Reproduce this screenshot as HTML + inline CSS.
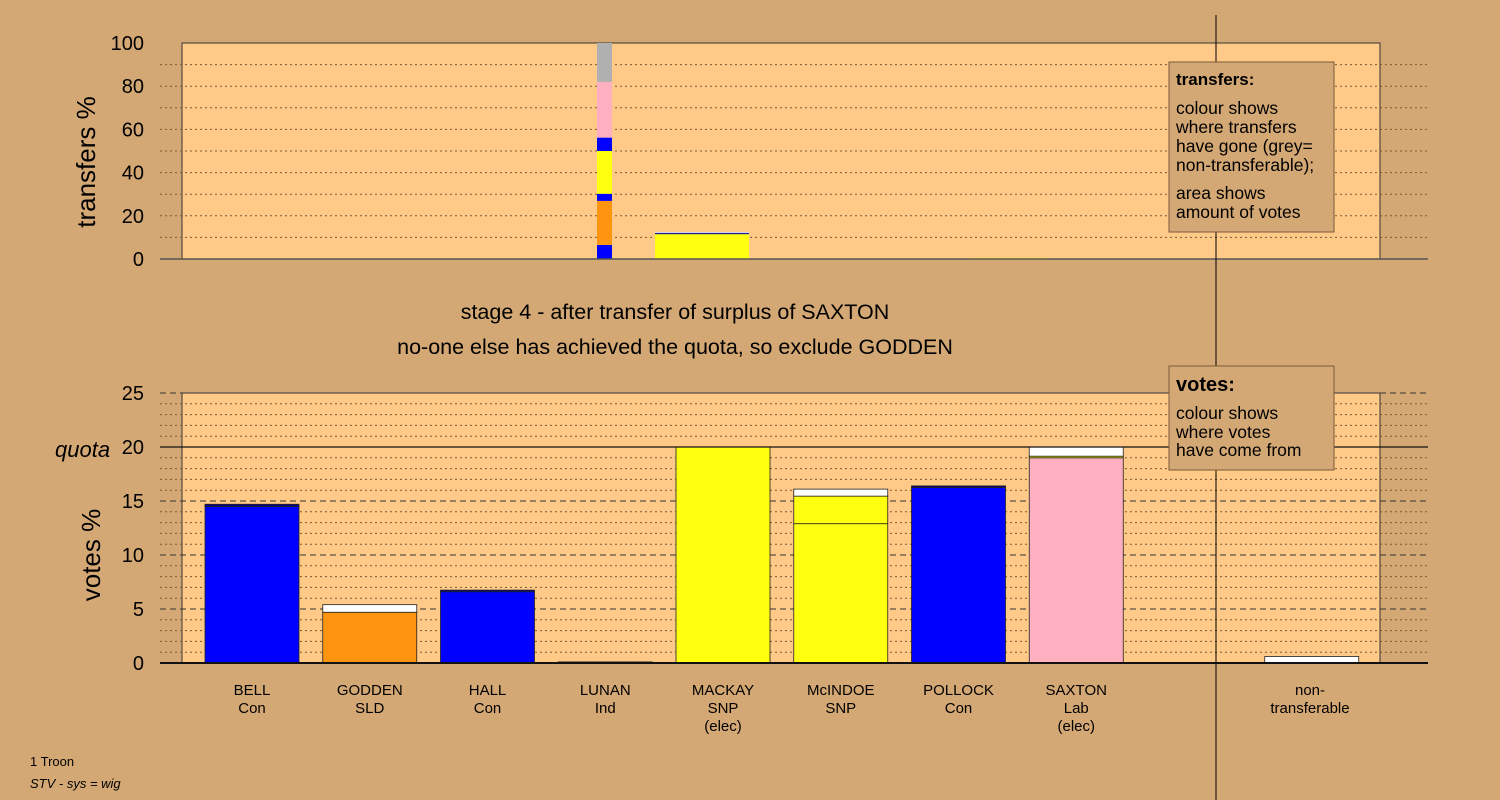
<!DOCTYPE html>
<html><head><meta charset="utf-8"><style>
html,body{margin:0;padding:0;background:#D4A874;}
svg{display:block;font-family:"Liberation Sans",sans-serif;}
</style></head><body>
<svg id="c" width="1500" height="800" viewBox="0 0 1500 800" xmlns="http://www.w3.org/2000/svg">
<rect x="0" y="0" width="1500" height="800" fill="#D4A874"/>
<g id="topPanel"></g>
<g id="botPanel"></g>
<line x1="1216" y1="15" x2="1216" y2="800" stroke="#000" stroke-width="1"/>
<g>
<rect x="1169" y="62" width="165" height="170" fill="#D4A874" stroke="#7a5a3a"/>
<text x="1176" y="85" font-size="17" font-weight="bold">transfers:</text>
<text font-size="17.5"><tspan x="1176" y="114">colour shows</tspan><tspan x="1176" y="133">where transfers</tspan><tspan x="1176" y="152">have gone (grey=</tspan><tspan x="1176" y="171">non-transferable);</tspan><tspan x="1176" y="199">area shows</tspan><tspan x="1176" y="218">amount of votes</tspan></text>
</g>
<g>
<rect x="1169" y="366" width="165" height="104" fill="#D4A874" stroke="#7a5a3a"/>
<text x="1176" y="391" font-size="20" font-weight="bold">votes:</text>
<text font-size="17.5"><tspan x="1176" y="419">colour shows</tspan><tspan x="1176" y="438">where votes</tspan><tspan x="1176" y="456">have come from</tspan></text>
</g>
<text x="675" y="319" font-size="21.5" text-anchor="middle">stage 4 - after transfer of surplus of SAXTON</text>
<text x="675" y="354" font-size="21.5" text-anchor="middle">no-one else has achieved the quota, so exclude GODDEN</text>
<text transform="translate(95,162) rotate(-90)" font-size="26" text-anchor="middle">transfers %</text>
<text transform="translate(100,555) rotate(-90)" font-size="26" text-anchor="middle">votes %</text>
<text x="55" y="457" font-size="22" font-style="italic">quota</text>
<text x="30" y="766" font-size="13">1 Troon</text>
<text x="30" y="788" font-size="13" font-style="italic">STV - sys = wig</text>
</svg>
<script>
const NS='http://www.w3.org/2000/svg';
const candidates=['BELL','GODDEN','HALL','LUNAN','MACKAY','McINDOE','POLLOCK','SAXTON','',"non-"];
const parties=['Con','SLD','Con','Ind','SNP','SNP','Con','Lab','','transferable'];
const notes=['','','','','(elec)','','','(elec)','',''];
const voteSegs=[
 [[14.5,'#0000FF'],[0.2,'#000080']],
 [[4.7,'#FF9410'],[0.7,'#FFFFFF']],
 [[6.6,'#0000FF'],[0.15,'#000080']],
 [[0.1,'#FF9410']],
 [[20,'#FFFF10']],
 [[12.9,'#FFFF10'],[2.55,'#FFFF10'],[0.65,'#FFFFFF']],
 [[16.25,'#0000FF'],[0.15,'#000080']],
 [[19.0,'#FFB0C0'],[0.15,'#FFFF10'],[0.85,'#FFFFFF']],
 [],
 [[0.6,'#FFFFFF']]
];
const voteTicks=[0,5,10,15,20,25];
const quota=20;
const transferTicks=[0,20,40,60,80,100];
const transferSegs=[
 [[6.5,'#0000FF'],[20.4,'#FF9410'],[3.3,'#0000FF'],[19.8,'#FFFF10'],[6.2,'#0000FF'],[25.8,'#FFB0C0'],[18,'#B0B0B0']],
 [[11.5,'#FFFF10'],[0.5,'#000080'],[0.5,'#D0D0F0']],
 [[0.5,'#FFFF10']]
];
const transferX=[597,655,969];
const transferW=[15,94,79];

(function(){
const X0=182,X1=1380,step=117.75,first=252,bw=94;
const xc=i=>first+i*step;
const yB=v=>663-v*10.8;
const yT=v=>259-v*2.16;
const topG=document.getElementById('topPanel'),botG=document.getElementById('botPanel');
function mk(p,tag,a){const e=document.createElementNS(NS,tag);for(const k in a)e.setAttribute(k,a[k]);p.appendChild(e);return e;}

let r=mk(topG,'rect',{x:X0,y:yT(100),width:X1-X0,height:yT(0)-yT(100),fill:'#FFC987',stroke:'#333','stroke-width':1});


for(let v=10;v<100;v+=10){const l=mk(topG,'line',{x1:160,x2:1428,y1:yT(v),y2:yT(v),stroke:'#7a5a35','stroke-dasharray':'2,3'});

}
transferSegs.forEach((segs,i)=>{let acc=0;segs.forEach(([v,c])=>{const e=mk(topG,'rect',{x:transferX[i],y:yT(acc+v),width:transferW[i],height:v*2.16,fill:c});

acc+=v;});});
let l0=mk(topG,'line',{x1:160,x2:1428,y1:yT(0),y2:yT(0),stroke:'#555','stroke-width':1.5});


transferTicks.forEach(v=>{const t=mk(topG,'text',{x:144,y:yT(v)+7,'font-size':20,'text-anchor':'end'});t.textContent=v;

});

r=mk(botG,'rect',{x:X0,y:yB(25),width:X1-X0,height:yB(0)-yB(25),fill:'#FFC987',stroke:'#333','stroke-width':1});


for(let v=1;v<25;v++){if(v%5===0)continue;const l=mk(botG,'line',{x1:160,x2:1428,y1:yB(v),y2:yB(v),stroke:'#7a5a35','stroke-dasharray':'2,3'});

}
[5,10,15,25].forEach(v=>{const l=mk(botG,'line',{x1:160,x2:1428,y1:yB(v),y2:yB(v),stroke:'#333','stroke-dasharray':'6,4'});

});
voteSegs.forEach((segs,i)=>{let acc=0;segs.forEach(([v,c])=>{const e=mk(botG,'rect',{x:xc(i)-bw/2,y:yB(acc+v),width:bw,height:v*10.8,fill:c,stroke:'#222','stroke-width':0.8});

acc+=v;});});
let q=mk(botG,'line',{x1:160,x2:1428,y1:yB(quota),y2:yB(quota),stroke:'#111','stroke-width':1.3});


let b0=mk(botG,'line',{x1:160,x2:1428,y1:yB(0),y2:yB(0),stroke:'#111','stroke-width':2});


voteTicks.forEach(v=>{const t=mk(botG,'text',{x:144,y:yB(v)+7,'font-size':20,'text-anchor':'end'});t.textContent=v;

});
candidates.forEach((c,i)=>{if(!c)return;const cx=i===9?1310:xc(i);
[c,parties[i],notes[i]].forEach((s,j)=>{if(!s)return;const t=mk(botG,'text',{x:cx,y:695+j*18,'font-size':15,'text-anchor':'middle'});t.textContent=s;

});});
})();
</script>
</body></html>
